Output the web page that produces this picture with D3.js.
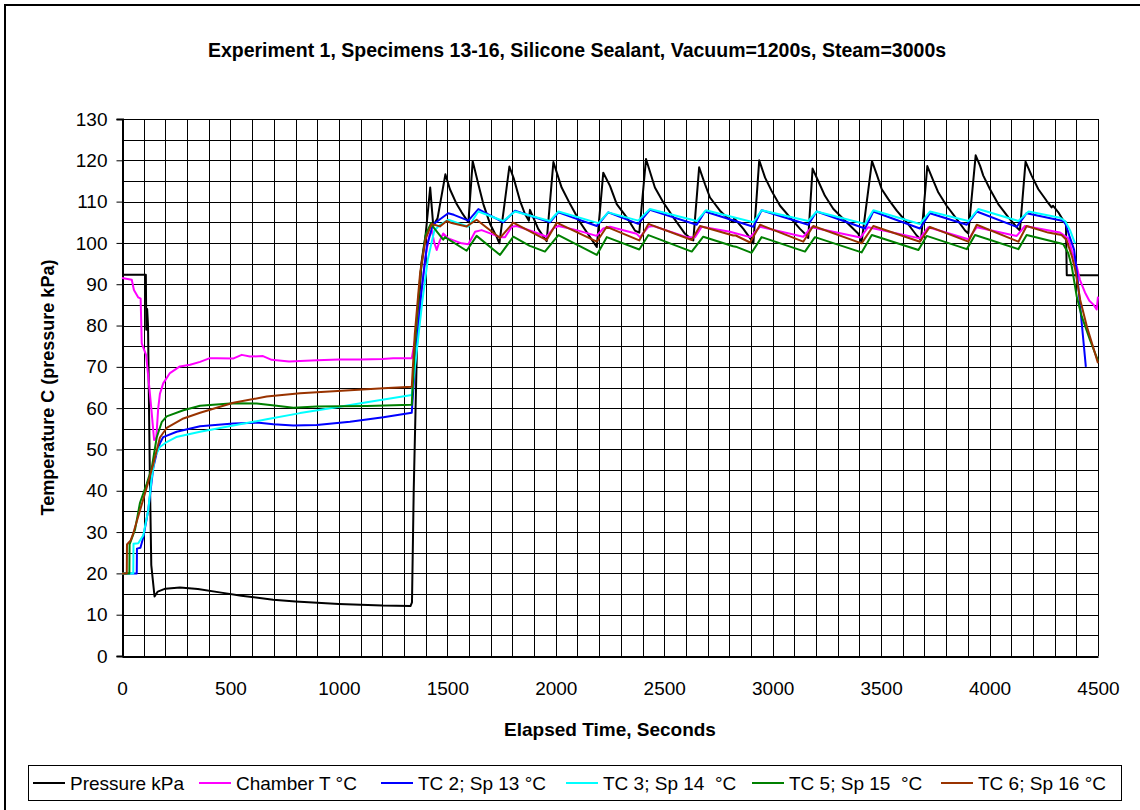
<!DOCTYPE html>
<html lang="en">
<head>
    <meta charset="UTF-8">
    <title>Experiment 1, Specimens 13-16</title>
    <script src="https://d3js.org/d3.v7.min.js"></script>
    <style>
        body {
            margin: 0;
            padding: 0;
            background: #fff;
            font-family: "Liberation Sans", Arial, sans-serif;
        }
        svg { display: block; }
        .grid line { stroke: #000; stroke-width: 1px; shape-rendering: crispEdges; }
        .series { fill: none; stroke-width: 2px; stroke-linejoin: round; }
        .tick-label { font-size: 19px; fill: #000; }
        .axis-title { font-size: 19px; font-weight: bold; fill: #000; }
        .legend-label { font-size: 19px; fill: #000; }
    </style>
</head>
<body>
<svg id="chart" width="1140" height="810"></svg>
<script>
    // Data: [seconds, value]
    const pressure = [
        [0, 92.3], [110, 92.3], [112, 79], [116, 84], [120, 80], [128, 45], [135, 22], [150, 14.4],
        [165, 15.6], [200, 16.3], [267, 16.6], [350, 16.2], [450, 15.4], [550, 14.6], [697, 13.6],
        [800, 13.2], [900, 12.9], [1000, 12.6], [1100, 12.4], [1200, 12.2], [1330, 12.1], [1337, 13],
        [1345, 40], [1360, 75], [1380, 95], [1400, 102], [1421, 113.4], [1435, 104.2], [1455, 106],
        [1491, 116.6], [1512, 113], [1543, 109.4], [1566, 107.4], [1597, 105], [1617, 119.8],
        [1643, 114.2], [1666, 109.4], [1697, 104.6], [1728, 101.4], [1740, 99.9], [1786, 118.5],
        [1807, 115.5], [1835, 110.2], [1858, 107], [1876, 105.4], [1881, 108], [1896, 106.2],
        [1919, 103.4], [1950, 101], [1958, 100.4], [1989, 119.6], [2027, 113.4], [2066, 109.4],
        [2112, 105], [2158, 101.4], [2189, 99], [2219, 117], [2250, 113.8], [2281, 109.4],
        [2327, 106.2], [2365, 103], [2385, 102.5], [2416, 120.3], [2457, 113.4], [2496, 109.8],
        [2542, 106.2], [2596, 102.2], [2634, 100.6], [2661, 118.3], [2688, 114.2], [2711, 111],
        [2757, 107.8], [2788, 106.2], [2818, 105], [2822, 106], [2865, 103.4], [2903, 100.6],
        [2911, 99.9], [2938, 120], [2965, 115.8], [2995, 112.6], [3034, 109], [3080, 106.2],
        [3126, 103.4], [3157, 101.8], [3164, 101.2], [3184, 118], [3210, 115], [3241, 111.4],
        [3280, 108.2], [3341, 105], [3395, 102.2], [3410, 100.2], [3458, 119.8], [3479, 116.7],
        [3503, 113], [3533, 110.6], [3572, 107.8], [3618, 105], [3664, 101.8], [3684, 100.7],
        [3713, 118.6], [3741, 115], [3764, 112.2], [3802, 109], [3848, 105.8], [3887, 103],
        [3902, 102.3], [3936, 121.2], [3956, 118.7], [3971, 116.3], [4002, 113], [4040, 109.4],
        [4087, 106.2], [4125, 103.8], [4140, 103], [4166, 119.7], [4194, 116.3], [4225, 113],
        [4263, 110.2], [4286, 108.6], [4293, 109], [4317, 107.4], [4340, 105.4], [4352, 105],
        [4356, 92.2], [4500, 92.2]
    ];

    const chamberT = [
        [0, 91.5], [45, 91.1], [55, 88.6], [75, 86.8], [86, 86.5], [91, 75.7], [111, 72.9],
        [121, 67.7], [135, 60], [148, 52.3], [158, 52.8], [167, 60], [175, 63.5], [190, 66],
        [221, 68.5], [267, 70.1], [314, 70.5], [360, 71.2], [405, 72.1], [437, 72.1], [512, 72.0],
        [552, 72.9], [590, 72.5], [650, 72.6], [690, 71.7], [770, 71.3], [900, 71.6], [1000, 71.8],
        [1100, 71.8], [1200, 71.9], [1250, 72.1], [1336, 72.1], [1351, 76.5], [1374, 84.6],
        [1397, 95.9], [1415, 101.5], [1428, 103.1], [1440, 100], [1451, 98.3], [1465, 100.5],
        [1481, 102.3], [1504, 101.1], [1566, 99.9], [1597, 99.7], [1628, 102.7], [1658, 103.1],
        [1743, 101.4], [1766, 101.4], [1797, 103.9], [1820, 104.1], [1897, 102.7], [1958, 101.5],
        [1989, 103.5], [2012, 104.1], [2096, 103.1], [2188, 101.7], [2219, 103.5], [2250, 103.9],
        [2373, 102.2], [2388, 101.4], [2427, 103.9], [2450, 104.1], [2603, 101.4], [2642, 101.4],
        [2673, 103.9], [2803, 102.7], [2896, 101.4], [2942, 103.9], [3141, 101.5], [3180, 103.8],
        [3405, 101.3], [3440, 103.8], [3679, 101.1], [3718, 103.8], [3902, 100.9], [3941, 103.8],
        [4125, 101.7], [4163, 104.1], [4325, 102.5], [4363, 101.1], [4380, 98], [4402, 94.3],
        [4417, 91], [4440, 88], [4460, 86], [4480, 85], [4494, 83.9], [4500, 87]
    ];

    const tc2 = [
        [0, 20], [68, 20], [69, 26], [85, 26.2], [98, 28.7], [121, 35.3], [144, 45.5], [160, 49.2],
        [175, 51.5], [190, 53], [252, 54.3], [360, 55.6], [513, 56.3], [621, 56.5], [698, 56.1],
        [790, 55.8], [898, 55.9], [1051, 56.7], [1205, 57.8], [1336, 58.9], [1350, 70], [1380, 88],
        [1405, 99], [1433, 104.4], [1460, 105.5], [1504, 107.2], [1530, 106.8], [1597, 105.4],
        [1643, 108.2], [1758, 105], [1812, 107.8], [1973, 105], [2012, 107.4], [2189, 104.1],
        [2242, 107.4], [2380, 104.6], [2434, 108], [2650, 104.4], [2688, 107.6], [2911, 103.9],
        [2949, 107.9], [3164, 104.4], [3203, 107.6], [3426, 103.5], [3464, 107.6], [3679, 103.5],
        [3725, 107.2], [3895, 104.4], [3941, 107.6], [4125, 103.9], [4171, 107.2], [4340, 105.3],
        [4352, 104.4], [4368, 101.7], [4390, 98.3], [4405, 91.8], [4444, 70]
    ];

    const tc3 = [
        [0, 20], [52, 20], [53, 27.2], [75, 27.3], [98, 29.2], [121, 35.3], [136, 42.7], [152, 48.3],
        [175, 50.6], [206, 51.8], [250, 53], [360, 54.3], [513, 55.8], [667, 57.3], [821, 58.8],
        [975, 60.1], [1150, 61.6], [1336, 63.2], [1355, 72], [1385, 86], [1410, 96], [1440, 103],
        [1466, 104.4], [1504, 105.6], [1597, 103.9], [1643, 107.6], [1758, 105.3], [1812, 107.6],
        [1973, 105.3], [2012, 107.6], [2196, 104.8], [2242, 107.4], [2380, 105.4], [2434, 108.2],
        [2650, 105.3], [2692, 107.9], [2911, 105], [2949, 107.9], [3164, 105.3], [3203, 107.6],
        [3426, 104.6], [3464, 107.9], [3679, 104.6], [3725, 107.6], [3902, 105.3], [3948, 108.2],
        [4133, 105.3], [4180, 107.6], [4325, 106.1], [4348, 105.3], [4371, 103.1], [4394, 99.9]
    ];

    const tc5 = [
        [0, 20], [34, 20], [35, 27], [60, 30.6], [83, 37.1], [114, 41.7], [137, 45.5], [160, 52.9],
        [183, 56.6], [206, 58], [283, 59.5], [360, 60.6], [513, 61.2], [621, 61.1], [713, 60.6],
        [790, 60.1], [898, 60.4], [1128, 60.5], [1336, 60.8], [1350, 75], [1375, 92], [1400, 102],
        [1425, 104.8], [1440, 103.5], [1481, 100.8], [1489, 101.4], [1589, 98.1], [1635, 101.7],
        [1743, 97.1], [1804, 101.5], [1880, 99.3], [1890, 99.1], [1950, 97.9], [2012, 101.9],
        [2189, 97.1], [2235, 101.4], [2385, 98.4], [2427, 101.9], [2627, 97.9], [2680, 101.5],
        [2818, 99.2], [2830, 99.1], [2903, 97.6], [2949, 101.4], [3149, 97.9], [3195, 101.4],
        [3410, 97.7], [3457, 101.9], [3672, 98.3], [3710, 101.7], [3895, 98.5], [3933, 101.9],
        [4133, 98.5], [4171, 101.9], [4325, 99.9], [4340, 99.7], [4363, 97.5], [4379, 94.3],
        [4402, 87], [4425, 82.2], [4463, 76.5], [4500, 71.5]
    ];

    const tc6 = [
        [0, 20], [22, 20], [23, 27], [40, 28], [52, 29.7], [114, 40.8], [144, 46.4], [175, 52.9],
        [206, 55.2], [283, 57.5], [360, 58.9], [513, 61.3], [667, 62.8], [821, 63.6], [975, 64.1],
        [1205, 64.8], [1336, 65.2], [1350, 78], [1375, 93], [1400, 101], [1428, 104.6], [1466, 104],
        [1497, 105.3], [1520, 104.8], [1589, 104], [1635, 105.6], [1743, 101.2], [1804, 104.9],
        [1958, 100.7], [2004, 104.9], [2189, 100.3], [2235, 103.9], [2385, 100.6], [2427, 104.6],
        [2627, 100.7], [2665, 104.1], [2818, 101.8], [2830, 101.8], [2896, 100.1], [2942, 104.4],
        [3141, 100.3], [3187, 104.1], [3410, 99.9], [3464, 104.1], [3679, 100.3], [3725, 103.9],
        [3902, 100.3], [3941, 104.4], [4133, 100.3], [4171, 104.1], [4270, 102.5], [4332, 101.9],
        [4355, 100.7], [4380, 96.7], [4395, 93.5], [4418, 86.2], [4449, 79.7], [4500, 70.9]
    ];

    const seriesNames = ["Pressure kPa", "Chamber T °C", "TC 2; Sp 13 °C", "TC 3; Sp 14  °C", "TC 5; Sp 15  °C", "TC 6; Sp 16 °C"];
    const seriesColors = ["#000000", "#ff00ff", "#0000ff", "#00ffff", "#008000", "#993300"];
    const seriesData = [pressure, chamberT, tc2, tc3, tc5, tc6];

    const xTicks = [0, 500, 1000, 1500, 2000, 2500, 3000, 3500, 4000, 4500];
    const yTicks = [0, 10, 20, 30, 40, 50, 60, 70, 80, 90, 100, 110, 120, 130];

    const chartTitle = "Experiment 1, Specimens 13-16, Silicone Sealant, Vacuum=1200s, Steam=3000s";
    const xTitle = "Elapsed Time, Seconds";
    const yTitle = "Temperature C (pressure kPa)";

    // Layout
    const plot = { left: 122, top: 119, right: 1098, bottom: 656 };

    const svg = d3.select("#chart");

    // Outer chart frame
    svg.append("path")
        .attr("d", "M5,812 L5,5 L1142,5")
        .attr("fill", "none")
        .attr("stroke", "#000")
        .attr("stroke-width", 2);

    const x = d3.scaleLinear().domain([0, 4500]).range([plot.left, plot.right]);
    const y = d3.scaleLinear().domain([0, 130]).range([plot.bottom, plot.top]);

    // Grid: vertical every 100 s, horizontal every 5 units
    const grid = svg.append("g").attr("class", "grid");
    grid.selectAll(".vx")
        .data(d3.range(0, 4501, 100))
        .enter().append("line")
        .attr("x1", d => Math.round(x(d)) + 0.5).attr("x2", d => Math.round(x(d)) + 0.5)
        .attr("y1", plot.top).attr("y2", plot.bottom);
    grid.selectAll(".hy")
        .data(d3.range(0, 131, 5))
        .enter().append("line")
        .attr("x1", plot.left).attr("x2", plot.right)
        .attr("y1", d => Math.round(y(d)) + 0.5).attr("y2", d => Math.round(y(d)) + 0.5);

    // Axes
    const yAxis = svg.append("g")
        .attr("transform", `translate(${plot.left + 0.5},0)`)
        .call(d3.axisLeft(y).tickValues(yTicks).tickSize(6).tickPadding(9).tickFormat(d3.format("d")));
    const xAxis = svg.append("g")
        .attr("transform", `translate(0,${plot.bottom + 0.5})`)
        .call(d3.axisBottom(x).tickValues(xTicks).tickSize(0).tickPadding(25).tickFormat(d3.format("d")));

    [yAxis, xAxis].forEach(a => {
        a.select(".domain").attr("stroke", "#000").attr("stroke-width", 2);
        a.selectAll(".tick line").attr("stroke", "#000");
        a.selectAll(".tick text")
            .attr("class", "tick-label")
            .attr("font-family", null)
            .attr("font-size", null);
    });

    // Series
    const line = d3.line().x(d => x(d[0])).y(d => y(d[1]));
    seriesData.forEach((data, i) => {
        svg.append("path")
            .datum(data)
            .attr("class", "series")
            .attr("stroke", seriesColors[i])
            .attr("d", line);
    });

    // Titles
    svg.append("text")
        .attr("x", 577).attr("y", 57)
        .attr("text-anchor", "middle")
        .attr("font-size", 19.5)
        .attr("font-weight", "bold")
        .text(chartTitle);

    svg.append("text")
        .attr("class", "axis-title")
        .attr("x", 610).attr("y", 736)
        .attr("text-anchor", "middle")
        .text(xTitle);

    svg.append("text")
        .attr("class", "axis-title")
        .style("font-size", "18px")
        .attr("transform", `translate(54,${(plot.top + plot.bottom) / 2}) rotate(-90)`)
        .attr("text-anchor", "middle")
        .text(yTitle);

    // Legend
    const legend = svg.append("g");
    legend.append("rect")
        .attr("x", 28.5).attr("y", 765.5)
        .attr("width", 1093).attr("height", 35)
        .attr("fill", "#fff")
        .attr("stroke", "#000");

    const legendX = [33, 199, 381, 566, 752, 941];
    seriesNames.forEach((name, i) => {
        const g = legend.append("g").attr("transform", `translate(${legendX[i]},783)`);
        g.append("line")
            .attr("x1", 0).attr("x2", 32)
            .attr("stroke", seriesColors[i])
            .attr("stroke-width", 2);
        g.append("text")
            .attr("class", "legend-label")
            .attr("x", 37).attr("y", 7)
            .attr("xml:space", "preserve")
            .style("white-space", "pre")
            .text(name);
    });
</script>
</body>
</html>
